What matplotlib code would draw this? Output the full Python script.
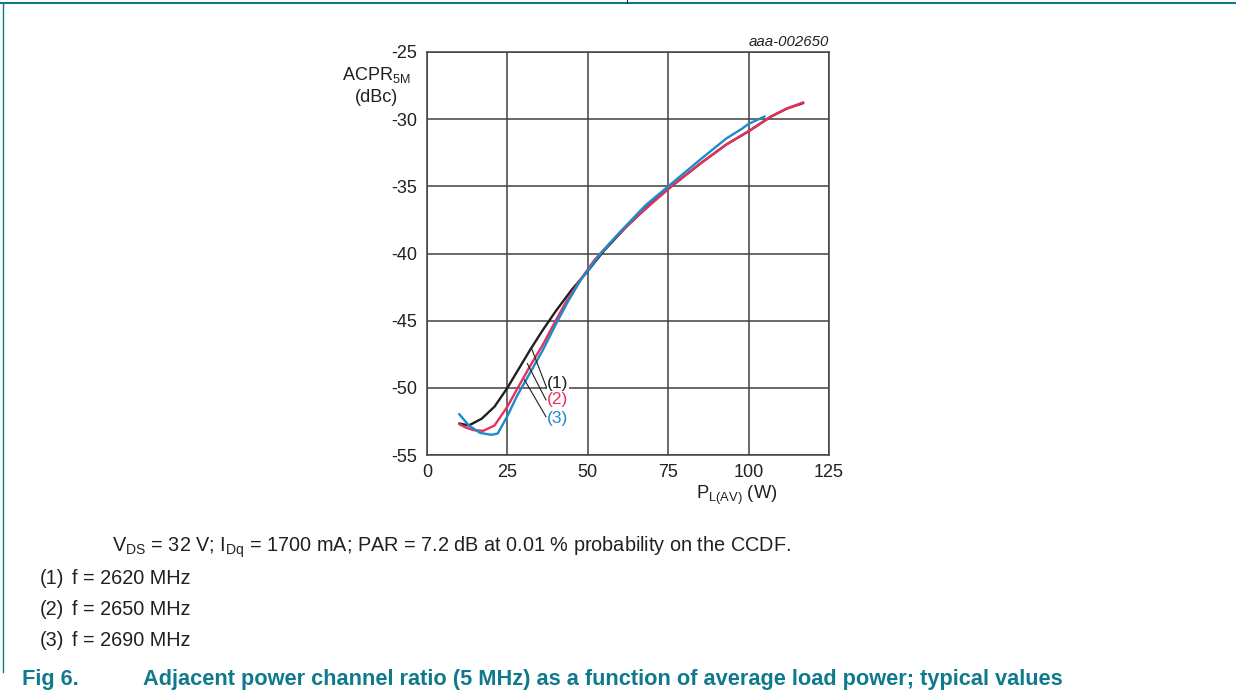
import matplotlib
matplotlib.use("Agg")
import matplotlib.pyplot as plt
from matplotlib.lines import Line2D

plt.rcParams['font.family'] = ['Liberation Sans', 'DejaVu Sans']
plt.rcParams['mathtext.fontset'] = 'custom'
plt.rcParams['mathtext.rm'] = 'Liberation Sans'

# ---- data ----
x_2620 = [10, 13, 17, 21, 25, 29, 32, 36, 40, 45, 50, 55, 62, 70, 76, 85, 93, 100, 107, 112, 117]
y_2620 = [-52.65, -52.8, -52.3, -51.4, -50.0, -48.4, -47.2, -45.7, -44.3, -42.7, -41.3, -39.8,
          -38.0, -36.2, -35.0, -33.3, -31.9, -30.9, -29.8, -29.2, -28.8]

x_2650 = [10, 12, 14.5, 17.5, 21, 25, 28, 32, 36, 40, 43, 47, 52, 57, 65, 76, 85, 93, 100, 107, 112, 117]
y_2650 = [-52.7, -52.95, -53.15, -53.2, -52.8, -51.4, -50.1, -48.4, -46.8, -45.0, -43.7, -42.2,
          -40.5, -39.2, -37.3, -35.0, -33.3, -31.9, -30.9, -29.8, -29.2, -28.75]

x_2690 = [10, 13, 16.5, 20, 22, 25, 28, 32, 36, 40, 44, 48, 54, 60, 68, 76, 85, 93, 98, 100, 105]
y_2690 = [-51.95, -52.8, -53.35, -53.5, -53.4, -52.1, -50.6, -48.9, -47.2, -45.3, -43.5, -41.9,
          -40.0, -38.4, -36.4, -34.8, -33.0, -31.45, -30.7, -30.35, -29.8]

x_ticks = [0, 25, 50, 75, 100, 125]
y_ticks = [-55, -50, -45, -40, -35, -30, -25]
series_labels = ["(1)", "(2)", "(3)"]
freqs = ["f = 2620 MHz", "f = 2650 MHz", "f = 2690 MHz"]

# ---- styles ----
W, H = 1236, 696
teal = '#0f7a8c'
colors = ['#231f20', '#e8305a', '#1a8bcb']
grid_c = '#404040'
txt_c = '#231f20'

fig = plt.figure(figsize=(W / 100, H / 100), dpi=100)
ax = fig.add_axes([427 / W, 1 - 455 / H, (829 - 427) / W, (455 - 52) / H])
ax.set_xlim(0, 125)
ax.set_ylim(-55, -25)
ax.set_xticks(x_ticks)
ax.set_yticks(y_ticks)
ax.set_xticklabels([str(v) for v in x_ticks])
ax.set_yticklabels([str(v) for v in y_ticks])
ax.tick_params(length=0, labelsize=13, colors=txt_c)
ax.tick_params(axis='y', pad=7)
ax.tick_params(axis='x', pad=6.5)
ax.grid(True, color=grid_c, linewidth=1.1)
for s in ax.spines.values():
    s.set_color(grid_c)
    s.set_linewidth(1.1)

for xs, ys, c in zip([x_2620, x_2650, x_2690], [y_2620, y_2650, y_2690], colors):
    ax.plot(xs, ys, color=c, linewidth=1.7, solid_capstyle='round', zorder=3)

# labels with leader lines
lead = [((37.2, -50.0), (32.4, -47.0), -49.65),
        ((37.0, -50.9), (31.2, -48.2), -50.9),
        ((37.0, -52.15), (30.3, -49.4), -52.25)]
for (p1, p2, ty), lab, c in zip(lead, series_labels, colors):
    ax.plot([p1[0], p2[0]], [p1[1], p2[1]], color=txt_c, linewidth=0.8, zorder=4)
    ax.text(37.4, ty, lab, color=c, fontsize=12.5, va='center', ha='left', zorder=5,
            bbox=dict(facecolor='white', edgecolor='none', pad=0.3))

# axis labels
fig.text(376 / W, 1 - 75 / H, r'ACPR$_{\mathregular{5M}}$', fontsize=13, ha='center', va='center', color=txt_c)
fig.text(376 / W, 1 - 97 / H, '(dBc)', fontsize=13, ha='center', va='center', color=txt_c)
fig.text(737 / W, 1 - 495 / H, r'P$_{\mathregular{L(AV)}}$ (W)', fontsize=13.2, ha='center', va='center', color=txt_c)
fig.text(829 / W, 1 - 42 / H, 'aaa-002650', fontsize=10.8, ha='right', va='center', style='italic', color=txt_c)

# caption text
cap_font = ['Liberation Sans', 'DejaVu Sans']
fig.text(112 / W, 1 - 547 / H,
         r'V$_{\mathregular{DS}}$ = 32 V; I$_{\mathregular{Dq}}$ = 1700 mA; PAR = 7.2 dB at 0.01 % probability on the CCDF.',
         fontsize=14.3, ha='left', va='center', family=cap_font, color=txt_c)
for i, (lab, f) in enumerate(zip(series_labels, freqs)):
    yy = 1 - (578 + 31.5 * i) / H
    fig.text(40 / W, yy, lab, fontsize=14.3, ha='left', va='center', family=cap_font, color=txt_c)
    fig.text(72 / W, yy, f, fontsize=14.3, ha='left', va='center', family=cap_font, color=txt_c)

fig.text(22 / W, 1 - 680 / H, 'Fig 6.', fontsize=15.7, fontweight='bold', ha='left', va='center',
         family=cap_font, color=teal)
fig.text(143 / W, 1 - 680 / H,
         'Adjacent power channel ratio (5 MHz) as a function of average load power; typical values',
         fontsize=15.7, fontweight='bold', ha='left', va='center', family=cap_font, color=teal)

# frame lines
fig.add_artist(Line2D([0, 1], [1 - 2.5 / H, 1 - 2.5 / H], color=teal, linewidth=1.5, transform=fig.transFigure))
fig.add_artist(Line2D([3 / W, 3 / W], [1 - 2.5 / H, 1 - 672 / H], color=teal, linewidth=1.0, transform=fig.transFigure))
fig.add_artist(Line2D([627 / W, 627 / W], [1, 1 - 3 / H], color=txt_c, linewidth=0.8, transform=fig.transFigure))

fig.savefig('out.png', dpi=100)
